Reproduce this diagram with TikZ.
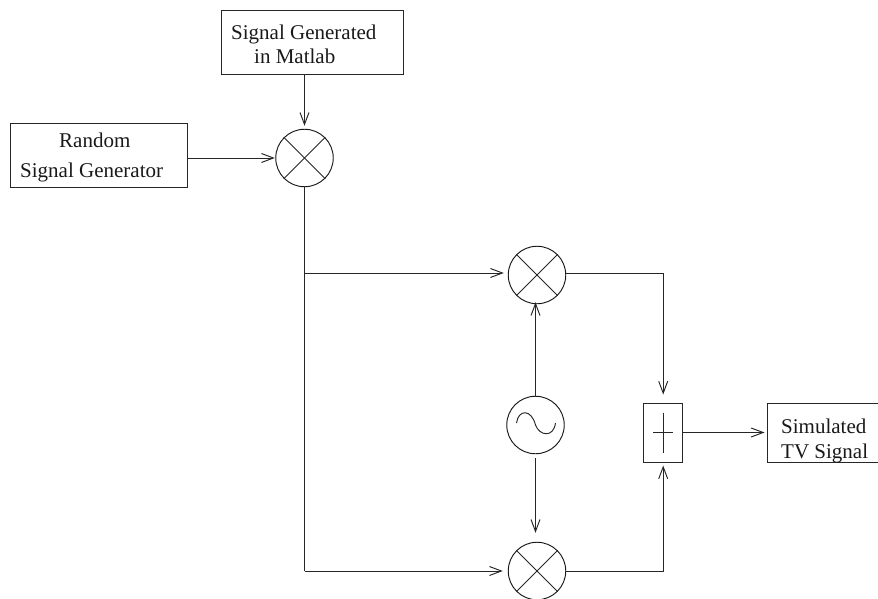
\documentclass[tikz,border=0pt]{standalone}
\usepackage{fontspec}
\setmainfont{Liberation Serif}
\usetikzlibrary{arrows.meta,calc}
\tikzset{
  wire/.style={line width=0.95pt,black!85},
  arr/.style={wire,-{Straight Barb[length=12pt,width=9pt,line width=0.95pt]}},
  blockbox/.style={draw,line width=0.95pt,black!85,rectangle,inner sep=0pt},
  ring/.style={draw,circle,line width=0.95pt,black!90,minimum size=57.5pt,inner sep=0pt},
  lab/.style={align=left,inner sep=0pt,text=black!90}
}
\begin{document}
\begin{tikzpicture}[x=1pt,y=-1pt]
\useasboundingbox (0,0) rectangle (878,599);
% boxes
\node[blockbox,minimum width=182pt,minimum height=64pt] (matlab) at (312,42) {};
\node[blockbox,minimum width=177pt,minimum height=64pt] (random) at (98.5,155) {};
\node[blockbox,minimum width=39.5pt,minimum height=59pt] (adder) at (663.2,432.5) {};
\node[blockbox,minimum width=120pt,minimum height=59pt,anchor=west] (tv) at (766.5,432.5) {};
% labels
\node[lab,font=\fontsize{21pt}{23.5pt}\selectfont,anchor=base west] (matlabtext) at (231,63.5) {Signal Generated\\\hspace*{23pt}in Matlab};
\node[lab,font=\fontsize{21pt}{29pt}\selectfont,anchor=base west] (randomtext) at (20,177) {\hspace*{39pt}Random\\Signal Generator};
\node[lab,font=\fontsize{21pt}{25pt}\selectfont,anchor=base west] (tvtext) at (781,458) {Simulated\\TV Signal};
% rings
\node[ring] (m1) at (304.5,158) {};
\node[ring] (m2) at (537,275) {};
\node[ring] (osc) at (535.5,425) {};
\node[ring] (m3) at (537,571) {};
% crosses
\foreach \n in {m1,m2,m3}{
  \draw[wire] (\n.45) -- (\n.225);
  \draw[wire] (\n.135) -- (\n.315);
}
% plus and sine
\draw[wire] ($(adder.center)+(-10,0)$) -- ($(adder.center)+(10,0)$);
\draw[wire] ($(adder.center)+(0,-20)$) -- ($(adder.center)+(0,20)$);
\draw[wire] ($(osc.center)+(-19,-2)$) .. controls ($(osc.center)+(-17,-16)$) and ($(osc.center)+(-4,-16)$) .. (osc.center)
  .. controls ($(osc.center)+(4,11)$) and ($(osc.center)+(18,13)$) .. ($(osc.center)+(20,-2)$);
% connectors
\draw[arr,shorten >=3pt] (matlab.south -| m1) -- (m1.north);
\draw[arr,shorten >=0.5pt] (random.east |- m1) -- (m1.west);
\coordinate (tee) at ($(m1)+(0,115)$);
\coordinate (corner) at (m1 |- m3);
\draw[wire] (m1.south) -- (corner);
\draw[arr,shorten >=5pt] (corner) -- (m3.west);
\draw[arr,shorten >=4pt] (tee) -- (tee -| m2.west);
\draw[arr,shorten >=-2pt] (osc.north) -- (osc.north |- m2.south);
\draw[arr,shorten <=4pt,shorten >=9pt] (osc.south) -- (osc.south |- m3.north);
\draw[arr,shorten >=8pt] (m2.east |- tee) -| (adder.north);
\draw[arr,shorten >=3pt] (m3.east) -| (adder.south);
\draw[arr,shorten >=2pt] (adder.east) -- (tv.west);
\end{tikzpicture}
\end{document}
